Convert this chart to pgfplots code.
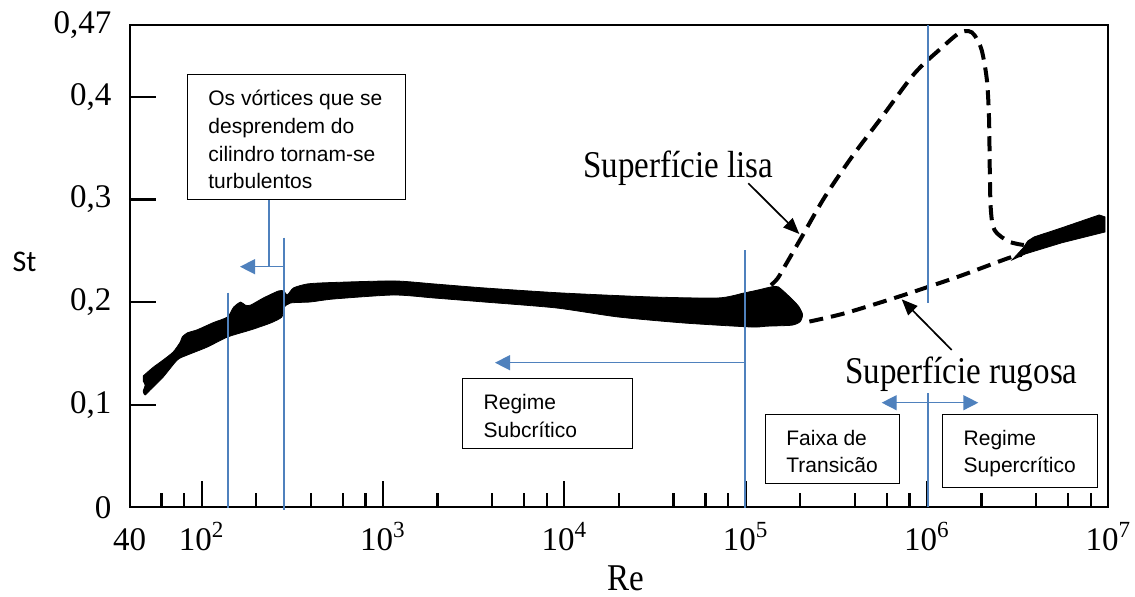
\documentclass[border=0pt]{standalone}
\usepackage{fontspec}
\setmainfont{Liberation Serif}
\newfontfamily\condserif[FakeStretch=0.874]{Liberation Serif}
\newfontfamily\boxsans{Liberation Sans}
\newfontfamily\labelsans{Carlito}
\usepackage{pgfplots}
\pgfplotsset{compat=1.18}
\usetikzlibrary{arrows.meta}
\definecolor{guide}{HTML}{4F81BD}

\begin{document}
\begin{tikzpicture}
\path[use as bounding box] (0,0) rectangle (567.5pt,298pt);
\begin{axis}[
  at={(64.75pt,44.35pt)}, anchor=south west,
  scale only axis, width=489.4pt, height=241.15pt,
  xmode=log, xmin=40, xmax=1e7, ymin=0, ymax=0.47,
  clip=false,
  axis line style={line width=1pt},
  tick align=inside, xtick pos=bottom, ytick pos=left,
  xtick={100,1000,10000,100000,1000000},
  xticklabels={{10\textsuperscript{2}},{10\textsuperscript{3}},{10\textsuperscript{4}},{10\textsuperscript{5}},{10\textsuperscript{6}}},
  extra x ticks={40,10000000},
  extra x tick labels={{40},{10\textsuperscript{7}}},
  extra x tick style={major tick length=0pt},
  minor xtick={60,80,200,400,600,800,2000,4000,6000,8000,2e4,4e4,6e4,8e4,2e5,4e5,6e5,8e5,2e6,4e6,6e6,8e6},
  ytick={0.1,0.2,0.3,0.4},
  yticklabels={{0,1},{0,2},{0,3},{0,4}},
  extra y ticks={0,0.47},
  extra y tick labels={{0},{0,47}},
  extra y tick style={major tick length=0pt},
  major tick length=13.35pt, minor tick length=7.35pt,
  every tick/.style={black, line width=1.1pt},
  xtick style={black, line width=1.1pt},
  ytick style={black, line width=1.1pt},
  tick label style={font=\fontsize{16.5}{18}\selectfont},
  xticklabel style={anchor=base, inner sep=0pt, yshift=-21.35pt},
  yticklabel style={anchor=east, inner sep=0pt, xshift=-8.9pt},
  xlabel={Re},
  xlabel style={at={(axis description cs:0.507,-0.1715)}, anchor=base, inner sep=0pt,
    font=\condserif\fontsize{18.9}{20}\selectfont},
  ylabel={St},
  ylabel style={rotate=-90, at={(axis description cs:-0.1073,0.488)}, anchor=base, inner sep=0pt,
    font=\labelsans\fontsize{15}{17}\selectfont},
]
% measured band, Re = 47 ... 2e5
\addplot[draw=black, fill=black, line width=0.4pt, smooth, tension=0.4] coordinates {
  (47.6,0.128) (54.1,0.1365) (61.4,0.1436) (69.7,0.1514) (76.2,0.161) (78.2,0.166)
  (83.4,0.170) (94.6,0.173) (116,0.180) (139,0.1855) (150,0.195) (164,0.200)
  (174,0.197) (186,0.197) (219,0.204) (265,0.2108) (283,0.2108) (297,0.207)
  (321,0.2138) (384,0.2177) (514,0.219) (1146,0.2206) (1905,0.2177) (3597,0.2138)
  (9590,0.2089) (30120,0.2050) (70600,0.2040) (98200,0.2089) (117400,0.2118)
  (138600,0.2148) (151400,0.2148) (175000,0.2050) (195300,0.1962) (206000,0.1880)
  (200000,0.1810) (180000,0.1775) (130000,0.1765) (107400,0.1757) (45800,0.1796)
  (19770,0.1855) (9000,0.1943) (3597,0.2001) (1905,0.2040) (1146,0.2069)
  (534,0.2030) (398,0.2001) (309,0.1991) (283,0.1943) (277,0.1855) (240,0.1796)
  (186,0.1728) (139,0.1660) (107.5,0.1562) (83.4,0.1484) (73.4,0.1436)
  (61.4,0.1270) (52,0.1143) (48.8,0.1095) (47.6,0.1130) (48.8,0.1190) (47.6,0.1230)
} -- cycle;
% measured band, supercritical range
\addplot[draw=black, fill=black, line width=0.4pt] coordinates {
  (2.95e6,0.2411) (3.4e6,0.2530) (3.6e6,0.2596) (3.9e6,0.2635) (5.5e6,0.2722)
  (8.9e6,0.2849) (9.6e6,0.2830) (9.6e6,0.2683) (5.5e6,0.2576) (3.5e6,0.2470)
} -- cycle;
% smooth surface
\addplot[black, line width=2pt, dash pattern=on 7.5pt off 4pt, smooth, tension=0.5] coordinates {
  (138000,0.2165) (150000,0.2230) (163300,0.234) (203200,0.263) (272200,0.302) (383700,0.341)
  (562300,0.380) (855700,0.423) (1.208e6,0.448) (1.50e6,0.462) (1.70e6,0.464)
  (1.83e6,0.460) (2.0e6,0.446) (2.14e6,0.4165) (2.2e6,0.378) (2.22e6,0.329)
  (2.25e6,0.290) (2.36e6,0.270) (2.83e6,0.259) (3.42e6,0.2556)
};
% rough surface
\addplot[black, line width=2pt, dash pattern=on 7pt off 4pt, smooth, tension=0.5] coordinates {
  (224700,0.181) (350800,0.189) (663700,0.204) (1.023e6,0.215) (1.556e6,0.226)
  (2.827e6,0.243) (3.33e6,0.246)
};
\end{axis}

\begin{scope}[yshift=298pt, x=0.5pt, y=-0.5pt]
  % regime boundaries
  \draw[guide, line width=0.7pt] (228,292.7) -- (228,508);
  \draw[guide, line width=0.7pt] (284,237.5) -- (284,510);
  \draw[guide, line width=0.7pt] (269,199.3) -- (269,266.7);
  \draw[guide, line width=0.7pt, -{Triangle[length=7.5pt,width=7.5pt]}] (284,266.7) -- (240,266.7);
  \draw[guide, line width=0.7pt] (745,250) -- (745,508);
  \draw[guide, line width=0.7pt, -{Triangle[length=7.5pt,width=7.5pt]}] (745,362.7) -- (495,362.7);
  \draw[guide, line width=0.7pt] (928,25) -- (928,303);
  \draw[guide, line width=0.7pt] (928,393.3) -- (928,507);
  \draw[guide, line width=0.7pt, {Triangle[length=7.5pt,width=7.5pt]}-{Triangle[length=7.5pt,width=7.5pt]}] (881.7,402.7) -- (978.3,402.7);

  % surface labels and pointers
  \node[anchor=base west, inner sep=0pt, font=\condserif\fontsize{18.9}{20}\selectfont] at (583,177.3) {Superfície lisa};
  \draw[line width=0.85pt, -{Triangle[length=8pt,width=6.5pt]}] (748.3,183.3) -- (799.3,234);
  \node[anchor=base west, inner sep=0pt, font=\condserif\fontsize{18.9}{20}\selectfont] at (845,383.3) {Superfície rugosa};
  \draw[line width=0.85pt, -{Triangle[length=8pt,width=6.5pt]}] (951.7,350) -- (901.7,299.3);

  % text boxes
  \begin{scope}[every node/.style={anchor=base west, inner sep=0pt, font=\boxsans\fontsize{10.5}{12}\selectfont}]
    \draw[line width=0.5pt, fill=white] (187.3,75) rectangle (405,199.3);
    \node at (208,106) {Os vórtices que se};
    \node at (208,133.5) {desprendem do};
    \node at (208,161) {cilindro tornam-se};
    \node at (208,188.5) {turbulentos};

    \draw[line width=0.5pt, fill=white] (462.7,378) rectangle (632,448);
    \node at (483.3,409.6) {Regime};
    \node at (483.3,437.3) {Subcrítico};

    \draw[line width=0.5pt, fill=white] (765.7,414) rectangle (899,483);
    \node at (786,445) {Faixa de};
    \node at (786,472.7) {Transicão};

    \draw[line width=0.5pt, fill=white] (942.3,414) rectangle (1097.7,487.7);
    \node at (963.3,445) {Regime};
    \node at (963.3,472.7) {Supercrítico};
  \end{scope}
\end{scope}
\end{tikzpicture}
\end{document}
